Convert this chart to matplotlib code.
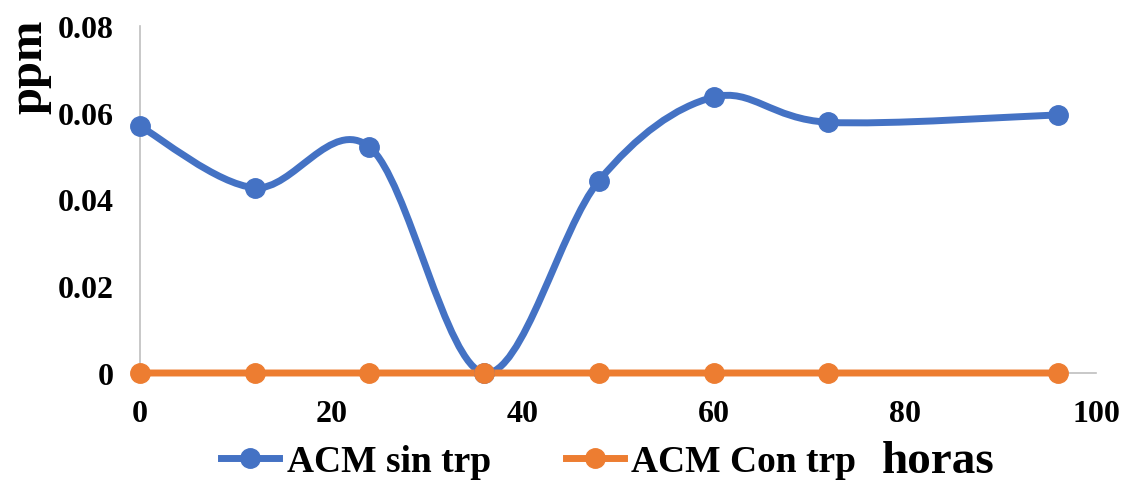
import matplotlib
matplotlib.use("Agg")
import matplotlib.pyplot as plt
from matplotlib.path import Path
from matplotlib.patches import PathPatch
from matplotlib.lines import Line2D
import numpy as np

horas = [0, 12, 24, 36, 48, 60, 72, 96]
sin_trp = [0.0569, 0.0427, 0.0521, 0.0, 0.0443, 0.0636, 0.0578, 0.0595]
con_trp = [0, 0, 0, 0, 0, 0, 0, 0]
series_names = ["ACM sin trp", "ACM Con trp"]
xticks = [0, 20, 40, 60, 80, 100]
yticks = [0, 0.02, 0.04, 0.06, 0.08]
ytick_labels = ["0", "0.02", "0.04", "0.06", "0.08"]

BLUE = "#4472C4"
ORANGE = "#ED7D31"
GRAY = "#BFBFBF"
FONT = ["Liberation Serif", "DejaVu Serif"]

plt.rcParams["font.family"] = FONT
plt.rcParams["font.weight"] = "bold"


def smooth_path(xs, ys):
    pts = np.column_stack([xs, ys]).astype(float)
    n = len(pts)
    verts = [pts[0]]
    codes = [Path.MOVETO]
    for i in range(n - 1):
        p0 = pts[i - 1] if i > 0 else pts[i]
        p1 = pts[i]
        p2 = pts[i + 1]
        p3 = pts[i + 2] if i + 2 < n else pts[i + 1]
        c1 = p1 + (p2 - p0) / 6.0
        c2 = p2 - (p3 - p1) / 6.0
        verts += [c1, c2, p2]
        codes += [Path.CURVE4] * 3
    return Path(verts, codes)


fig = plt.figure(figsize=(11.22, 4.85), dpi=100)
ax = fig.add_axes([140 / 1122, 1 - 374 / 485, (1096 - 140) / 1122, (374 - 27) / 485])

ax.set_xlim(0, 100)
ax.set_ylim(0, 0.08)

for name, ys, col in [(series_names[0], sin_trp, BLUE), (series_names[1], con_trp, ORANGE)]:
    patch = PathPatch(smooth_path(horas, ys), facecolor="none", edgecolor=col,
                      lw=5, capstyle="round", joinstyle="round", zorder=3, clip_on=False)
    ax.add_patch(patch)
    ax.plot(horas, ys, "o", color=col, markersize=14, zorder=4, clip_on=False)

for s in ["top", "right"]:
    ax.spines[s].set_visible(False)
ax.spines["left"].set_color(GRAY)
ax.spines["bottom"].set_color(GRAY)
ax.spines["left"].set_linewidth(1.2)
ax.spines["bottom"].set_linewidth(1.2)
ax.spines["left"].set_zorder(1)
ax.spines["bottom"].set_zorder(1)

ax.set_xticks(xticks)
ax.set_xticklabels([str(t) for t in xticks])
ax.set_yticks(yticks)
ax.set_yticklabels(ytick_labels)
ax.tick_params(axis="both", length=0, labelsize=23)
ax.tick_params(axis="x", pad=19)
ax.tick_params(axis="y", pad=19)
for lab in ax.get_xticklabels() + ax.get_yticklabels():
    lab.set_fontweight("bold")

fig.text(29 / 1122, 1 - 67 / 485, "ppm", rotation=90, fontsize=35, fontweight="bold",
         ha="center", va="center")
fig.text(938 / 1122, 1 - 462 / 485, "horas", fontsize=34, fontweight="bold",
         ha="center", va="center")

handles = [Line2D([0], [0], color=BLUE, lw=5, marker="o", markersize=14),
           Line2D([0], [0], color=ORANGE, lw=5, marker="o", markersize=14)]
leg = fig.legend(handles, series_names, loc="center left",
                 bbox_to_anchor=(221 / 1122, 1 - 463 / 485), ncol=2, frameon=False,
                 prop={"family": FONT, "weight": "bold", "size": 27},
                 handlelength=1.55, handletextpad=0.2, columnspacing=2.0,
                 borderaxespad=0, borderpad=0)

fig.savefig("out.png", dpi=100)
